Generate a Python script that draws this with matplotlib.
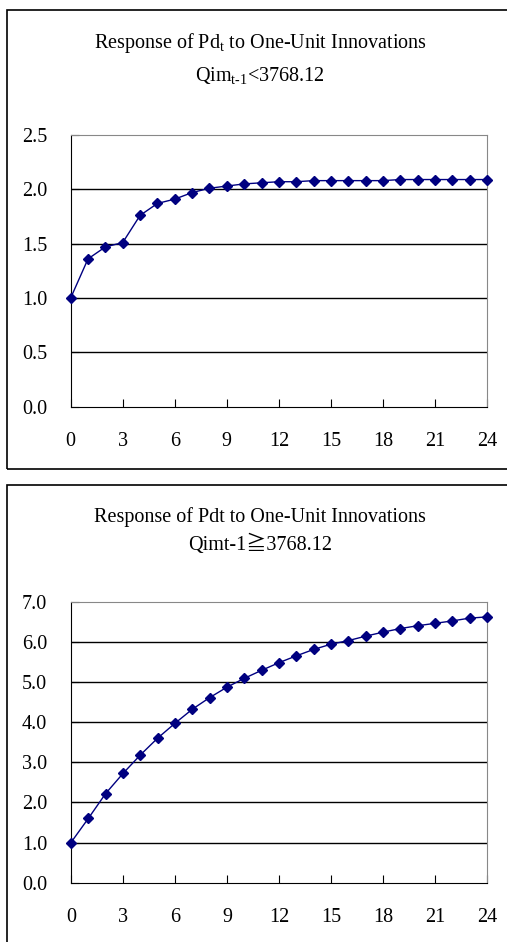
import matplotlib
matplotlib.use("Agg")
import matplotlib.pyplot as plt
from matplotlib.patches import Rectangle

plt.rcParams['font.family'] = ['Liberation Serif', 'Noto Sans CJK TC', 'DejaVu Sans']
plt.rcParams['mathtext.fontset'] = 'custom'
plt.rcParams['mathtext.rm'] = 'Liberation Serif'
plt.rcParams['mathtext.it'] = 'Liberation Serif:italic'

# horizon (periods after the shock)
periods = list(range(25))

# regime 1: Qim(t-1) < 3768.12
resp_low = [1.00, 1.36, 1.47, 1.51, 1.76, 1.87, 1.91, 1.97, 2.01, 2.03,
            2.05, 2.06, 2.07, 2.07, 2.08, 2.08, 2.08, 2.08, 2.08, 2.09,
            2.09, 2.09, 2.09, 2.09, 2.09]

# regime 2: Qim(t-1) >= 3768.12
resp_high = [1.00, 1.60, 2.22, 2.72, 3.18, 3.60, 3.97, 4.32, 4.61, 4.87,
             5.09, 5.29, 5.48, 5.65, 5.81, 5.94, 6.03, 6.14, 6.24, 6.33,
             6.40, 6.46, 6.52, 6.59, 6.62]

xticks = [0, 3, 6, 9, 12, 15, 18, 21, 24]
yticks_low = [0.0, 0.5, 1.0, 1.5, 2.0, 2.5]
yticks_high = [0.0, 1.0, 2.0, 3.0, 4.0, 5.0, 6.0, 7.0]

FS = 14.5
NAVY = '#000080'

fig = plt.figure(figsize=(5.07, 9.42), dpi=100)

# panel frames
fig.patches.append(Rectangle((7 / 507, 1 - 469 / 942), 1.0, 459 / 942,
                             transform=fig.transFigure, fill=False,
                             edgecolor='black', linewidth=1.2))
fig.patches.append(Rectangle((7 / 507, -0.01), 1.0, 1 - 485 / 942 + 0.01,
                             transform=fig.transFigure, fill=False,
                             edgecolor='black', linewidth=1.2))


def draw_panel(ax, y, yticks, ymax):
    ax.plot(periods, y, color=NAVY, linewidth=1.0, marker='D', markersize=5,
            markerfacecolor=NAVY, markeredgecolor=NAVY, clip_on=False, zorder=3)
    ax.set_xlim(0, 24)
    ax.set_ylim(0, ymax)
    ax.set_xticks(xticks)
    ax.set_yticks(yticks)
    ax.set_yticklabels([f"{v:.1f}" for v in yticks])
    for v in yticks[1:-1]:
        ax.axhline(v, color='black', linewidth=1.0, zorder=1)
    for s in ['top', 'right']:
        ax.spines[s].set_color('#888888')
    for s in ['left', 'bottom']:
        ax.spines[s].set_color('black')
    ax.tick_params(axis='x', direction='in', length=6, pad=18, labelsize=FS)
    ax.tick_params(axis='y', direction='in', length=6, pad=17, labelsize=FS)


ax1 = fig.add_axes([0.1394, 0.5683, 0.8212, 0.2884])
draw_panel(ax1, resp_low, yticks_low, 2.5)

ax2 = fig.add_axes([0.1400, 0.0630, 0.8205, 0.2983])
draw_panel(ax2, resp_high, yticks_high, 7.0)

fig.text(0.513, 0.949, r'Response of Pd$_\mathrm{t}$ to One-Unit Innovations',
         ha='center', va='baseline', fontsize=FS)
fig.text(0.513, 0.914, r'Qim$_\mathrm{t‐1}$<3768.12',
         ha='center', va='baseline', fontsize=FS)
fig.text(0.513, 0.4462, 'Response of Pdt to One-Unit Innovations',
         ha='center', va='baseline', fontsize=FS)
fig.text(0.513, 0.4161, 'Qimt-1≧3768.12',
         ha='center', va='baseline', fontsize=FS)

fig.savefig('out.png', dpi=100)
